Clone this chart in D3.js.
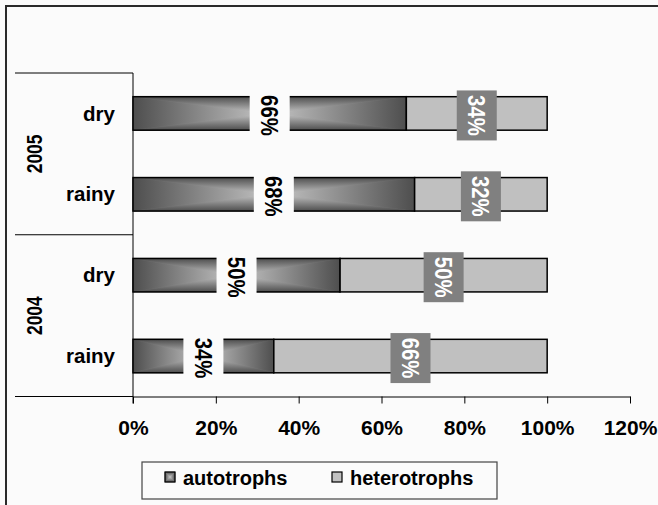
<!DOCTYPE html>
<html>
<head>
<meta charset="utf-8">
<script src="https://cdn.jsdelivr.net/npm/d3@7"></script>
<style>
  body { margin: 0; background: #fbfbfb; }
  text { font-family: "Liberation Sans", Arial, sans-serif; font-weight: bold; }
</style>
</head>
<body>
<svg id="chart" width="658" height="505"></svg>
<script>
// Share of autotrophs vs heterotrophs by year and season (%)
const years = ["2005", "2005", "2004", "2004"];
const seasons = ["dry", "rainy", "dry", "rainy"];
const autotrophs = [66, 68, 50, 34];
const heterotrophs = [34, 32, 50, 66];
const xTickValues = [0, 20, 40, 60, 80, 100, 120];
const seriesNames = ["autotrophs", "heterotrophs"];

const svg = d3.select("#chart");
const rows = seasons.map((s, i) => ({
  key: years[i] + "-" + s, year: years[i], season: s,
  a: autotrophs[i], h: heterotrophs[i]
}));

const x = d3.scaleLinear().domain([0, 120]).range([133, 630]);
const y = d3.scaleBand()
  .domain(rows.map(r => r.key))
  .range([73, 396.5])
  .paddingInner(0.586)
  .paddingOuter(0.293);
const bw = y.bandwidth();

// outer chart frame
svg.append("rect")
  .attr("x", 6).attr("y", 6).attr("width", 720).attr("height", 620)
  .attr("fill", "#fbfbfb").attr("stroke", "#2a2a2a").attr("stroke-width", 2);

// "from centre" gradient pieces
const dark = "#4e4e4e", light = "#c6c6c6";
const defs = svg.append("defs");
function lin(id, x1, y1, x2, y2, c1, c2) {
  const g = defs.append("linearGradient").attr("id", id)
    .attr("x1", x1).attr("y1", y1).attr("x2", x2).attr("y2", y2);
  g.append("stop").attr("offset", 0).attr("stop-color", c1);
  g.append("stop").attr("offset", 1).attr("stop-color", c2);
}
lin("gL", 0, 0, 1, 0, dark, light);
lin("gR", 0, 0, 1, 0, light, dark);
lin("gT", 0, 0, 0, 1, dark, light);
lin("gB", 0, 0, 0, 1, light, dark);

function centreFill(g, x0, y0, w, h) {
  const cx = x0 + w / 2, cy = y0 + h / 2, x1 = x0 + w, y1 = y0 + h;
  g.append("rect").attr("x", x0).attr("y", y0).attr("width", w).attr("height", h).attr("fill", "#8a8a8a");
  const parts = [
    [[[x0, y0], [cx, cy], [x0, y1]], "gL"],
    [[[x1, y0], [cx, cy], [x1, y1]], "gR"],
    [[[x0, y0], [x1, y0], [cx, cy]], "gT"],
    [[[x0, y1], [x1, y1], [cx, cy]], "gB"]
  ];
  parts.forEach(([pts, id]) => {
    g.append("polygon")
      .attr("points", pts.map(p => p.join(",")).join(" "))
      .attr("fill", `url(#${id})`)
      .attr("stroke", `url(#${id})`).attr("stroke-width", 0.6);
  });
}

// category axis: group separators and vertical line
const step = y.step();
const r0 = y.range()[0];
[0, 2, 4].forEach(i => {
  svg.append("line")
    .attr("x1", 15).attr("x2", x(0))
    .attr("y1", r0 + step * i).attr("y2", r0 + step * i)
    .attr("stroke", "#000").attr("stroke-width", 1);
});
svg.append("line")
  .attr("x1", x(0)).attr("x2", x(0))
  .attr("y1", r0).attr("y2", 403.5)
  .attr("stroke", "#000").attr("stroke-width", 1);

// season labels
svg.selectAll("text.season").data(rows).join("text")
  .attr("class", "season")
  .attr("x", 115).attr("y", d => y(d.key) + bw / 2)
  .attr("dy", "0.35em")
  .attr("text-anchor", "end")
  .attr("font-size", 20.5)
  .attr("fill", "#000")
  .text(d => d.season);

// year labels (one per group)
const groups = Array.from(new Set(years));
groups.forEach((yr, gi) => {
  const cy = r0 + step * (gi * 2 + 1);
  svg.append("text")
    .attr("transform", `translate(34.5,${cy}) rotate(-90) scale(0.92,1.12)`)
    .attr("text-anchor", "middle")
    .attr("dy", "0.35em")
    .attr("font-size", 19)
    .attr("fill", "#000")
    .text(yr);
});

// value axis
const xAxis = svg.append("g")
  .attr("transform", "translate(0,396.5)")
  .call(d3.axisBottom(x).tickValues(xTickValues).tickSize(7).tickSizeOuter(0)
    .tickPadding(16.5).tickFormat(d => d + "%"));
xAxis.select(".domain").attr("stroke", "#000");
xAxis.selectAll(".tick line").attr("stroke", "#000");
xAxis.selectAll(".tick text")
  .attr("font-size", 21)
  .attr("font-family", "Liberation Sans, Arial, sans-serif")
  .attr("font-weight", "bold")
  .attr("fill", "#000");

// bars
const bars = svg.append("g");
rows.forEach(d => {
  const g = bars.append("g");
  const y0 = y(d.key);
  centreFill(g, x(0), y0, x(d.a) - x(0), bw);
  g.append("rect")
    .attr("x", x(0)).attr("y", y0).attr("width", x(d.a) - x(0)).attr("height", bw)
    .attr("fill", "none").attr("stroke", "#000").attr("stroke-width", 1.5);
  g.append("rect")
    .attr("x", x(d.a)).attr("y", y0).attr("width", x(d.a + d.h) - x(d.a)).attr("height", bw)
    .attr("fill", "#c0c0c0").attr("stroke", "#000").attr("stroke-width", 1.5);
});

// value labels
const labels = svg.append("g");
rows.forEach(d => {
  const cy = y(d.key) + bw / 2 + 2;
  [[x(0), x(d.a), d.a, "#fbfbfb", "#000"],
   [x(d.a), x(d.a + d.h), d.h, "#808080", "#fff"]].forEach(([xa, xb, v, bg, fg]) => {
    const cx = (xa + xb) / 2;
    labels.append("rect")
      .attr("x", cx - 20).attr("y", cy - 25).attr("width", 40).attr("height", 50)
      .attr("fill", bg);
    labels.append("text")
      .attr("transform", `translate(${cx},${cy}) rotate(90) scale(0.97,1.15)`)
      .attr("text-anchor", "middle")
      .attr("dy", "0.35em")
      .attr("font-size", 21)
      .attr("fill", fg)
      .text(v + "%");
  });
});

// legend
const legend = svg.append("g");
legend.append("rect")
  .attr("x", 142).attr("y", 462).attr("width", 355).attr("height", 37)
  .attr("fill", "#fbfbfb").attr("stroke", "#444").attr("stroke-width", 1.2);
const legendX = [165, 332];
seriesNames.forEach((name, i) => {
  const g = legend.append("g");
  if (i === 0) {
    centreFill(g, legendX[i], 472, 10, 10);
    g.append("rect").attr("x", legendX[i]).attr("y", 472).attr("width", 10).attr("height", 10)
      .attr("fill", "none").attr("stroke", "#000").attr("stroke-width", 1.2);
  } else {
    g.append("rect").attr("x", legendX[i]).attr("y", 472).attr("width", 10).attr("height", 10)
      .attr("fill", "#c0c0c0").attr("stroke", "#000").attr("stroke-width", 1.2);
  }
  g.append("text")
    .attr("x", legendX[i] + 18).attr("y", 485)
    .attr("font-size", 20)
    .attr("fill", "#000")
    .text(name);
});
</script>
</body>
</html>
